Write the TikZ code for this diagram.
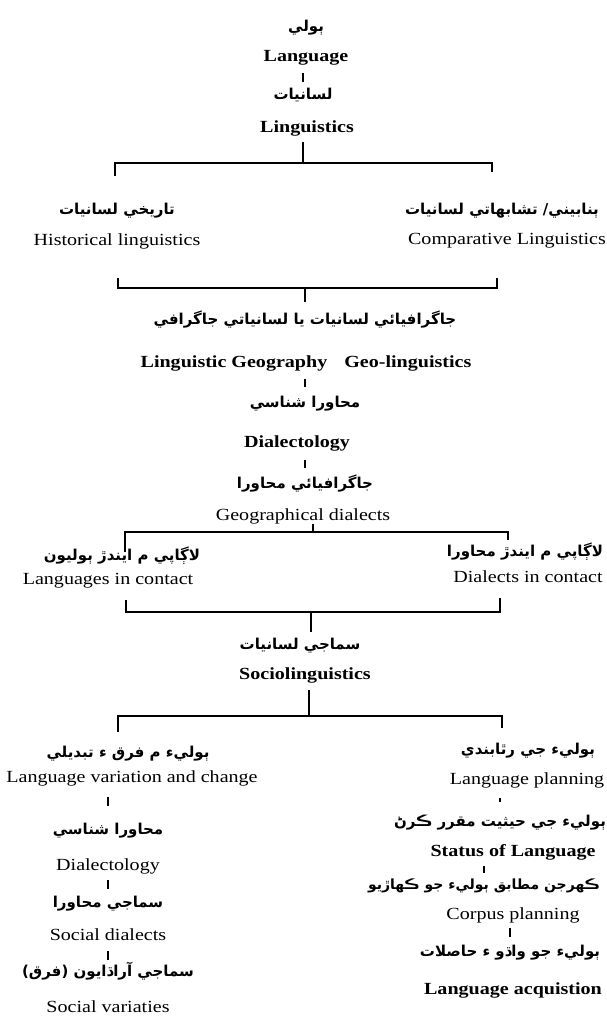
\documentclass[tikz,border=0pt]{standalone}
\usepackage{fontspec}
\setmainfont{Liberation Serif}[FakeStretch=1.18]
\newfontfamily\arabicfont[Script=Arabic]{DejaVu Sans}
\TeXXeTstate=1
\newcommand\ar[1]{{\arabicfont\bfseries\beginR #1\endR}}
\begin{document}
\begin{tikzpicture}[x=1pt,y=-1pt,
  en/.style={inner sep=0pt,text height=12pt,text depth=4pt,font=\fontsize{17}{20}\selectfont},
  enb/.style={en,font=\fontsize{17}{20}\selectfont\bfseries},
  arn/.style={inner sep=0pt,text height=12pt,text depth=4pt,font=\fontsize{15}{18}\selectfont},
  ars/.style={arn,font=\fontsize{14}{17}\selectfont},
  br/.style={line width=1.6pt},
  tk/.style={line width=1.4pt}]
\useasboundingbox (0,0) rectangle (607,1018);
% top chain
\node[arn] (n1) at (306,27) {\ar{ٻولي}};
\node[enb] (n2) at (306,57) {Language};
\node[arn] (n3) at (303,95) {\ar{لسانيات}};
\node[enb] (n4) at (307,128) {Linguistics};
\draw[tk,shorten <=8pt,shorten >=5pt] (n2.south -| n3) -- (n3.north);
% bracket 1
\coordinate (h1) at (303,163);
\coordinate (bl1) at (115,176);
\coordinate (br1) at (492,172);
\draw[br,shorten <=6pt] (n4.south -| h1) -- (h1);
\draw[br] (bl1) -- (bl1 |- h1) -- (br1 |- h1) -- (br1);
\node[arn] (n5) at (117,210) {\ar{تاريخي لسانيات}};
\node[en] (n6) at (117,241) {Historical linguistics};
\node[arn] (n7) at (502,210) {\ar{ٻنابيني/ تشابهاتي لسانيات}};
\node[en] (n8) at (507,240) {Comparative Linguistics};
% bracket 2
\coordinate (h2) at (305,288);
\coordinate (bl2) at (118,278);
\coordinate (br2) at (497,278);
\draw[br] (bl2) -- (bl2 |- h2) -- (br2 |- h2) -- (br2);
\node[arn] (n9) at (305,320) {\ar{جاگرافيائي لسانيات يا لسانياتي جاگرافي}};
\draw[br,shorten >=10pt] (h2) -- (n9.north -| h2);
\node[enb] (n10) at (306,363) {Linguistic Geography\quad Geo-linguistics};
\node[arn] (n11) at (305,403) {\ar{محاورا شناسي}};
\draw[tk,shorten <=8pt,shorten >=8pt] (n10.south -| n11) -- (n11.north);
\node[enb] (n12) at (297,443) {Dialectology};
\node[arn] (n13) at (305,484) {\ar{جاگرافيائي محاورا}};
\draw[tk,shorten <=9pt,shorten >=8pt] (n12.south -| n13) -- (n13.north);
\node[en] (n14) at (303,516) {Geographical dialects};
% bracket 3
\coordinate (h3) at (313,532);
\coordinate (bl3) at (125,552);
\coordinate (br3) at (508,540);
\draw[br] (n14.south -| h3) -- (h3);
\draw[br] (bl3) -- (bl3 |- h3) -- (br3 |- h3) -- (br3);
\node[arn] (n15) at (122,556) {\ar{لاڳاپي م ايندڙ ٻوليون}};
\node[en] (n16) at (108,580) {Languages in contact};
\node[arn] (n17) at (525,552) {\ar{لاڳاپي م ايندڙ محاورا}};
\node[en] (n18) at (528,578) {Dialects in contact};
% bracket 4
\coordinate (h4) at (311,612);
\coordinate (bl4) at (126,600);
\coordinate (br4) at (500,598);
\draw[br] (bl4) -- (bl4 |- h4) -- (br4 |- h4) -- (br4);
\node[arn] (n19) at (300,645) {\ar{سماجي لسانيات}};
\draw[br,shorten >=5pt] (h4) -- (n19.north -| h4);
\node[enb] (n20) at (305,675) {Sociolinguistics};
% bracket 5
\coordinate (h5) at (309,716);
\coordinate (bl5) at (118,732);
\coordinate (br5) at (502,728);
\draw[br,shorten <=7pt] (n20.south -| h5) -- (h5);
\draw[br] (bl5) -- (bl5 |- h5) -- (br5 |- h5) -- (br5);
\node[arn] (n21) at (128,753) {\ar{ٻوليء م فرق ء تبديلي}};
\node[en] (n22) at (132,778) {Language variation and change};
\node[arn] (n23) at (528,750) {\ar{ٻوليء جي رٿابندي}};
\node[en] (n24) at (527,780) {Language planning};
% left column
\node[arn] (n25) at (108,830) {\ar{محاورا شناسي}};
\draw[tk,shorten <=11pt,shorten >=16pt] (n22.south -| n25) -- (n25.north);
\node[en] (n26) at (108,866) {Dialectology};
\node[arn] (n27) at (108,903) {\ar{سماجي محاورا}};
\draw[tk,shorten <=6pt,shorten >=6pt] (n26.south -| n27) -- (n27.north);
\node[en] (n28) at (108,936) {Social dialects};
\node[arn] (n29) at (108,972) {\ar{سماجي آراڌايون (فرق)}};
\draw[tk,shorten <=7pt,shorten >=4pt] (n28.south -| n29) -- (n29.north);
\node[en] (n30) at (108,1008) {Social variaties};
% right column
\node[arn] (n31) at (500,822) {\ar{ٻوليء جي حيثيت مقرر ڪرڻ}};
\draw[tk,shorten <=10pt,shorten >=12pt] (n24.south -| n31) -- (n31.north);
\node[enb] (n32) at (513,852) {Status of Language};
\node[ars] (n33) at (484,885) {\ar{ڪهرجن مطابق ٻوليء جو ڪهاڙيو}};
\draw[tk,shorten <=6pt,shorten >=4pt] (n32.south -| n33) -- (n33.north);
\node[en] (n34) at (513,915) {Corpus planning};
\node[arn] (n35) at (510,952) {\ar{ٻوليء جو واڌو ء حاصلات}};
\draw[tk,shorten <=5pt,shorten >=7pt] (n34.south -| n35) -- (n35.north);
\node[enb] (n36) at (513,990) {Language acquistion};
\end{tikzpicture}
\end{document}
